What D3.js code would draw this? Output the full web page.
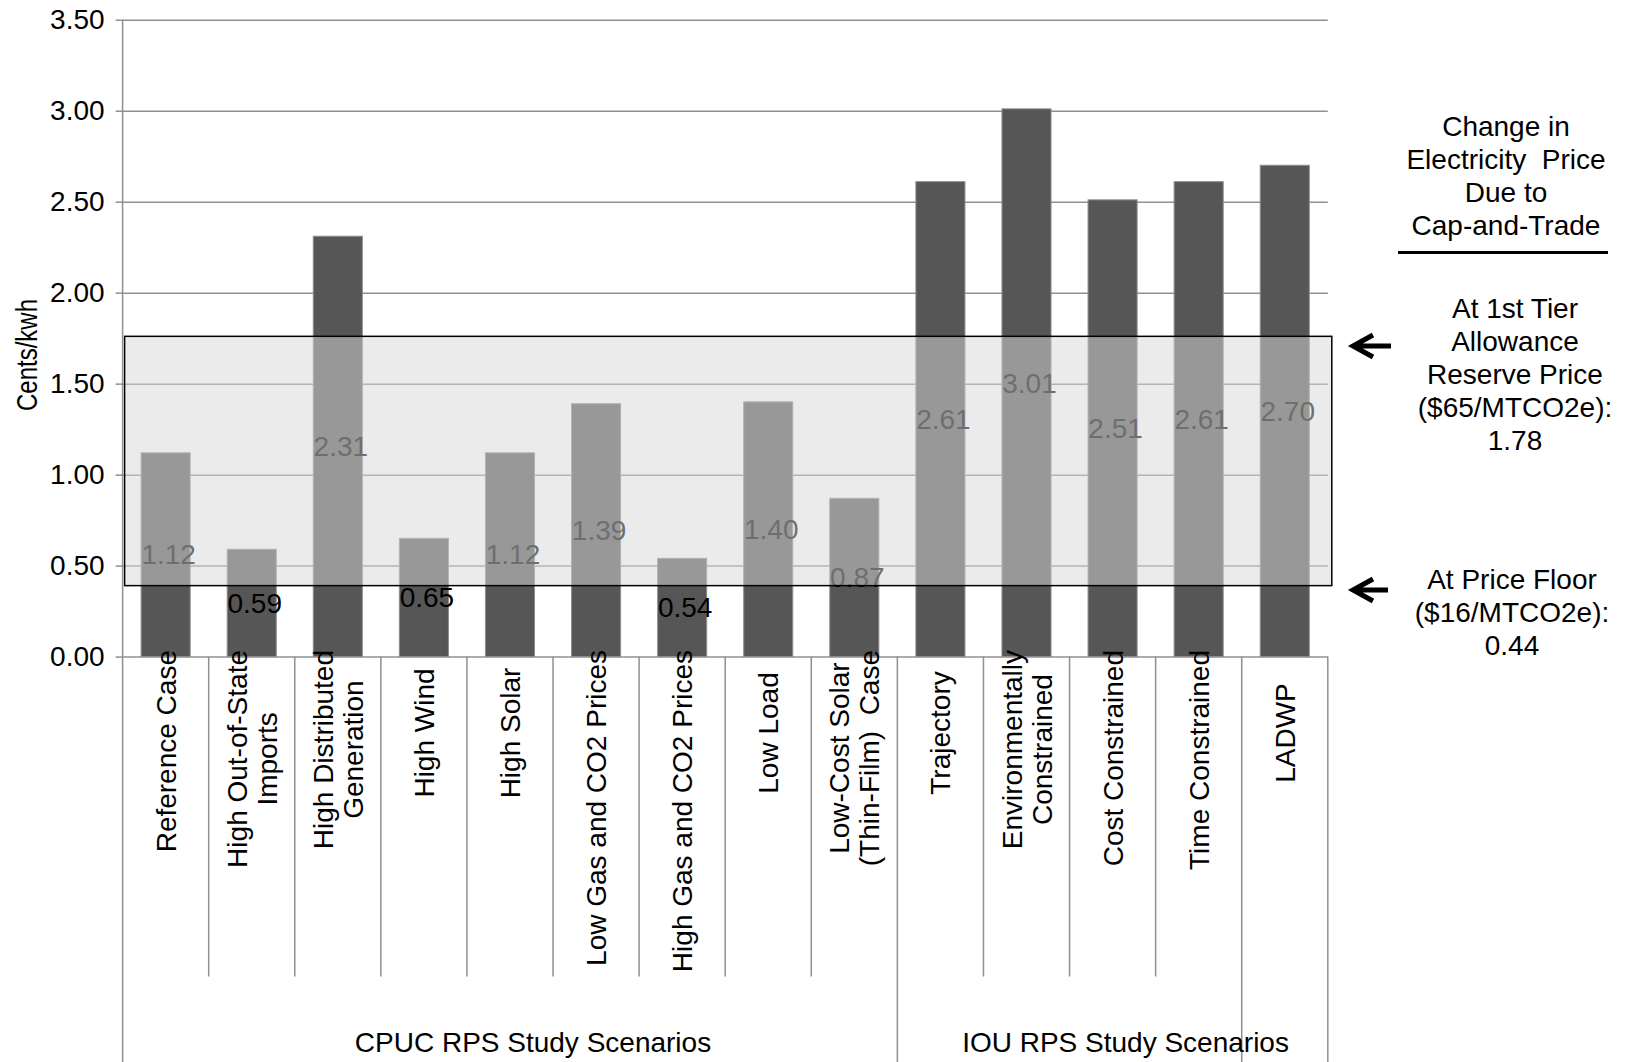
<!DOCTYPE html>
<meta charset="utf-8">
<head>
	<style>
		body { margin: 0; background: #fff; }
		text { font-family: "Liberation Sans", Arial, sans-serif; fill: #000; }
		.grid line { stroke: #909090; stroke-width: 1.5; }
		.sep { stroke: #909090; stroke-width: 1.5; }
		.bar { fill: #565656; stroke: #8d8d8d; stroke-width: 1; }
	</style>
	<script src="https://cdn.jsdelivr.net/npm/d3@7"></script>
</head>
<body></body>
<script>

	// category labels, split where the chart wraps them
	var categories = [
		["Reference Case"],
		["High Out-of-State", "Imports"],
		["High Distributed", "Generation"],
		["High Wind"],
		["High Solar"],
		["Low Gas and CO2 Prices"],
		["High Gas and CO2 Prices"],
		["Low Load"],
		["Low-Cost Solar", "(Thin-Film)  Case"],
		["Trajectory"],
		["Environmentally", "Constrained"],
		["Cost Constrained"],
		["Time Constrained"],
		["LADWP"]
	];
	var values = [1.12, 0.59, 2.31, 0.65, 1.12, 1.39, 0.54, 1.40, 0.87, 2.61, 3.01, 2.51, 2.61, 2.70];
	var groupNames = ["CPUC RPS Study Scenarios", "IOU RPS Study Scenarios", ""];
	var groupSizes = [9, 4, 1];
	var yTicks = [0, 0.5, 1, 1.5, 2, 2.5, 3, 3.5];
	var boxRange = [0.39, 1.76];
	var noteTitle = ["Change in", "Electricity  Price", "Due to", "Cap-and-Trade"];
	var noteHigh = ["At 1st Tier", "Allowance", "Reserve Price", "($65/MTCO2e):", "1.78"];
	var noteLow = ["At Price Floor", "($16/MTCO2e):", "0.44"];

	var width = 1629,
			height = 1062,
			plotLeft = 122.6,
			plotRight = 1327.8,
			plotTop = 19.7,
			plotBottom = 656.6,
			catBottom = 976.6;

	var svg = d3.select("body").append("svg")
		.attr("width", width)
		.attr("height", height);

	var x = d3.scaleBand()
		.domain(d3.range(categories.length))
		.range([plotLeft, plotRight])
		.paddingInner(0.43)
		.paddingOuter(0.215);

	var y = d3.scaleLinear()
		.domain([0, 3.5])
		.range([plotBottom, plotTop]);

	// gridlines + tick labels
	var grid = svg.append("g")
		.attr("class", "grid")
		.attr("transform", "translate(" + plotLeft + ",0)")
		.call(d3.axisLeft(y).tickValues(yTicks).tickSize(-(plotRight - plotLeft)).tickFormat(d3.format(".2f")));
	grid.select(".domain").remove();
	grid.selectAll(".tick").append("line")
		.attr("x1", -7).attr("x2", 0);
	grid.selectAll(".tick text")
		.attr("x", -18)
		.style("font-size", "28px")
		.style("font-family", "'Liberation Sans', Arial, sans-serif")
		.attr("fill", "#000");

	svg.append("text")
		.attr("transform", "translate(37,355)rotate(-90)scale(1,1.2)")
		.attr("text-anchor", "middle")
		.style("font-size", "24px")
		.text("Cents/kwh");

	// bars and their labels
	svg.selectAll(".bar")
		.data(values)
	  .enter().append("rect")
		.attr("class", "bar")
		.attr("x", function(d, i) {return x(i)})
		.attr("width", x.bandwidth())
		.attr("y", function(d) {return y(d)})
		.attr("height", function(d) {return y(0) - y(d)});

	svg.selectAll(".val")
		.data(values)
	  .enter().append("text")
		.attr("class", "val")
		.attr("x", function(d, i) {return x(i) + x.bandwidth() / 2 + 3})
		.attr("y", function(d) {return (y(d) + y(0)) / 2})
		.attr("dy", "0.35em")
		.attr("text-anchor", "middle")
		.style("font-size", "28px")
		.text(function(d) {return d.toFixed(2)});

	// shaded range between floor and reserve price
	svg.append("rect")
		.attr("x", plotLeft + 2)
		.attr("width", plotRight - plotLeft + 2)
		.attr("y", y(boxRange[1]))
		.attr("height", y(boxRange[0]) - y(boxRange[1]))
		.attr("fill", "rgb(216,216,216)")
		.attr("fill-opacity", 0.51)
		.attr("stroke", "#000")
		.attr("stroke-width", 1.5);

	// y axis line
	svg.append("line")
		.attr("class", "sep")
		.attr("x1", plotLeft).attr("x2", plotLeft)
		.attr("y1", plotTop).attr("y2", height);

	// category separators
	var step = x.step(),
			groupEnds = d3.cumsum(groupSizes);
	d3.range(1, categories.length + 1).forEach(function(i) {
		var isGroup = groupEnds.indexOf(i) >= 0;
		svg.append("line")
			.attr("class", "sep")
			.attr("x1", plotLeft + i * step).attr("x2", plotLeft + i * step)
			.attr("y1", plotBottom).attr("y2", isGroup ? height : catBottom);
	});

	// category labels, rotated
	categories.forEach(function(lines, i) {
		var cx = x(i) + x.bandwidth() / 2,
				n = lines.length;
		var g = svg.append("g");
		var texts = lines.map(function(line, j) {
			return g.append("text")
				.attr("text-anchor", "middle")
				.style("font-size", "28px")
				.style("white-space", "pre")
				.text(line)
				.datum(cx + 10 + (j - (n - 1) / 2) * 30);
		});
		var len = d3.max(texts, function(t) {return t.node().getComputedTextLength()});
		var cy = Math.max(733, 650 + len / 2);
		texts.forEach(function(t) {
			t.attr("transform", "translate(" + t.datum() + "," + cy + ")rotate(-90)");
		});
	});

	// group labels
	var groupShift = [23, 56, 0],
			start = 0;
	groupNames.forEach(function(name, k) {
		var x0 = plotLeft + start * step,
				x1 = plotLeft + (start + groupSizes[k]) * step;
		svg.append("text")
			.attr("x", (x0 + x1) / 2 + groupShift[k])
			.attr("y", 1052)
			.attr("text-anchor", "middle")
			.style("font-size", "28px")
			.text(name);
		start += groupSizes[k];
	});

	// notes on the right
	function note(lines, cx, cy0) {
		lines.forEach(function(line, j) {
			svg.append("text")
				.attr("x", cx)
				.attr("y", cy0 + j * 33)
				.attr("dy", "0.35em")
				.attr("text-anchor", "middle")
				.style("font-size", "28px")
				.style("white-space", "pre")
				.text(line);
		});
	}
	note(noteTitle, 1506, 126);
	note(noteHigh, 1515, 308);
	note(noteLow, 1512, 579);

	svg.append("line")
		.attr("x1", 1398).attr("x2", 1608)
		.attr("y1", 252.5).attr("y2", 252.5)
		.attr("stroke", "#000")
		.attr("stroke-width", 3);

	function arrow(x0, x1, yy) {
		svg.append("path")
			.attr("d", "M" + x1 + "," + yy + "H" + (x0 + 2) + "M" + (x0 + 20) + "," + (yy - 11) + "L" + x0 + "," + yy + "L" + (x0 + 20) + "," + (yy + 11))
			.attr("fill", "none")
			.attr("stroke", "#000")
			.attr("stroke-width", 5)
			.attr("stroke-linejoin", "miter");
	}
	arrow(1353, 1391, 346);
	arrow(1353, 1388, 590);

</script>
